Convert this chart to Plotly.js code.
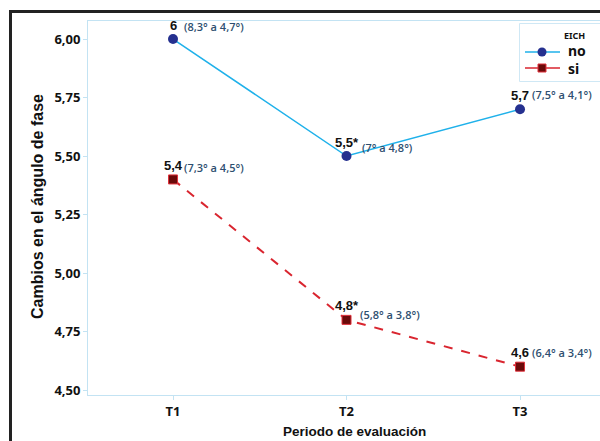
<!DOCTYPE html>
<html>
<head>
<meta charset="utf-8">
<script src="https://cdn.plot.ly/plotly-3.0.1.min.js"></script>
<style>html,body{margin:0;padding:0;background:#fff;}#chart{width:600px;height:441px;}</style>
</head>
<body>
<div id="chart"></div>
<script>
// ---- data ----
const periods = ["T1", "T2", "T3"];
const seriesNames = ["no", "si"];
const legendTitle = "EICH";
const valuesNo = [6.0, 5.5, 5.7];
const valuesSi = [5.4, 4.8, 4.6];
const labelsNo = ["6", "5,5*", "5,7"];
const labelsSi = ["5,4", "4,8*", "4,6"];
const ciNo = ["(8,3° a 4,7°)", "(7° a 4,8°)", "(7,5° a 4,1°)"];
const ciSi = ["(7,3° a 4,5°)", "(5,8° a 3,8°)", "(6,4° a 3,4°)"];
const yTicks = [4.5, 4.75, 5.0, 5.25, 5.5, 5.75, 6.0];

// ---- label placement (layout, not data) ----
const ciShiftNo = [[9, 13], [13, 9], [10, 15]];
const ciShiftSi = [[9, 12], [11, 5], [10, 14]];

const W = 600, H = 441;
const M = {l: 88, r: 0, t: 21, b: 46};
const pw = W - M.l - M.r, ph = H - M.t - M.b;
const px = x => (x - M.l) / pw;
const py = y => (H - M.b - y) / ph;

const colNoLine = "#1fb1ea", colNoMark = "#25308f";
const colSiLine = "#d9252f", colSiMark = "#6a0a0a", colSiEdge = "#e0303a";

const traces = [
  {
    x: periods, y: valuesNo, name: seriesNames[0], type: "scatter", mode: "lines+markers",
    line: {color: colNoLine, width: 1.5},
    marker: {symbol: "circle", size: 10, color: colNoMark}
  },
  {
    x: periods, y: valuesSi, name: seriesNames[1], type: "scatter", mode: "lines+markers",
    line: {color: colSiLine, width: 2, dash: "dash"},
    marker: {symbol: "square", size: 9, color: colSiMark, line: {color: colSiEdge, width: 1}}
  }
];

const annotations = [];
function addLabels(vals, labels, cis, shifts) {
  vals.forEach((v, i) => {
    annotations.push({
      x: periods[i], y: v, xref: "x", yref: "y", text: "<b>" + labels[i] + "</b>",
      showarrow: false, xanchor: "center", yanchor: "middle", yshift: 14,
      font: {family: "Liberation Sans, Arial, sans-serif", size: 13, color: "#111"}
    });
    annotations.push({
      x: periods[i], y: v, xref: "x", yref: "y", text: cis[i],
      showarrow: false, xanchor: "left", yanchor: "middle",
      xshift: shifts[i][0], yshift: shifts[i][1],
      font: {family: "Open Sans, sans-serif", size: 11, color: "#2e4f70", weight: 600}
    });
  });
}
addLabels(valuesNo, labelsNo, ciNo, ciShiftNo);
addLabels(valuesSi, labelsSi, ciSi, ciShiftSi);

// x axis title
annotations.push({
  xref: "paper", yref: "paper", x: px(354), y: py(431), xanchor: "center", yanchor: "middle",
  text: "<b>Periodo de evaluación</b>", showarrow: false,
  font: {family: "Liberation Sans, Arial, sans-serif", size: 13.5, color: "#111"}
});
// y axis title
annotations.push({
  xref: "paper", yref: "paper", x: px(37), y: py(207), xanchor: "center", yanchor: "middle",
  text: "<b>Cambios en el ángulo de fase</b>", showarrow: false, textangle: -90,
  font: {family: "Liberation Sans, Arial, sans-serif", size: 16, color: "#111"}
});

// ---- custom legend ----
annotations.push({
  xref: "paper", yref: "paper", x: px(574), y: py(35), xanchor: "center", yanchor: "middle",
  text: "<b>" + legendTitle + "</b>", showarrow: false, borderpad: 0,
  font: {family: "Noto Sans, sans-serif", size: 9, color: "#111"}
});
annotations.push({
  xref: "paper", yref: "paper", x: px(567), y: py(60), xanchor: "left", yanchor: "middle",
  align: "left", text: seriesNames.map(s => "<b>" + s + "</b>").join("<br>"),
  showarrow: false, borderpad: 0,
  font: {family: "Noto Sans, sans-serif", size: 14, color: "#111"}
});

const shapes = [
  // outer frame
  {type: "line", xref: "paper", yref: "paper", x0: px(10.5), x1: px(10.5), y0: py(10), y1: py(441), line: {color: "#222", width: 3}},
  {type: "line", xref: "paper", yref: "paper", x0: px(9), x1: px(600), y0: py(11.5), y1: py(11.5), line: {color: "#222", width: 3}},
  // legend box
  {type: "rect", xref: "paper", yref: "paper", x0: px(519.5), x1: px(610), y0: py(23.5), y1: py(81.5),
   line: {color: "#cfe8f5", width: 1}, fillcolor: "#fff", layer: "above"},
  // legend "no"
  {type: "line", xref: "paper", yref: "paper", x0: px(525), x1: px(560), y0: py(52), y1: py(52), line: {color: colNoLine, width: 1.5}, layer: "above"},
  {type: "circle", xref: "paper", yref: "paper", x0: px(537.5), x1: px(546.5), y0: py(47.5), y1: py(56.5), line: {width: 0}, fillcolor: colNoMark, layer: "above"},
  // legend "si"
  {type: "line", xref: "paper", yref: "paper", x0: px(525), x1: px(560), y0: py(68), y1: py(68), line: {color: colSiLine, width: 1.5}, layer: "above"},
  {type: "rect", xref: "paper", yref: "paper", x0: px(538), x1: px(546), y0: py(64), y1: py(72), line: {color: colSiEdge, width: 1}, fillcolor: colSiMark, layer: "above"}
];

const layout = {
  width: W, height: H,
  margin: M,
  paper_bgcolor: "#fff", plot_bgcolor: "#fff",
  separators: ",.",
  showlegend: false,
  xaxis: {
    type: "category", range: [-0.49, 2.461], fixedrange: true,
    showline: true, linecolor: "#c3e3f3", linewidth: 1, mirror: true,
    ticks: "outside", ticklen: 4, tickcolor: "#c3e3f3",
    showgrid: false, zeroline: false,
    tickfont: {family: "Noto Sans, sans-serif", size: 13, color: "#111", weight: "bold"}
  },
  yaxis: {
    range: [4.479, 6.077], fixedrange: true,
    tickvals: yTicks, tickformat: ".2f",
    showline: true, linecolor: "#c3e3f3", linewidth: 1, mirror: false,
    ticks: "outside", ticklen: 4, tickcolor: "#c3e3f3",
    showgrid: false, zeroline: false,
    tickfont: {family: "Noto Sans, sans-serif", size: 13, color: "#111", weight: "bold"}
  },
  annotations: annotations,
  shapes: shapes
};

Plotly.newPlot("chart", traces, layout, {displayModeBar: false, staticPlot: true});
</script>
</body>
</html>
